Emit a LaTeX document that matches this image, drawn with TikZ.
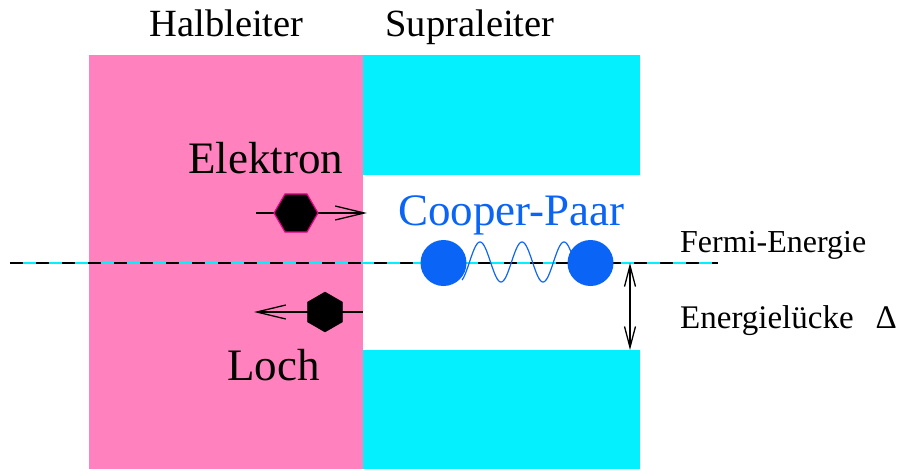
\documentclass[tikz,border=0pt]{standalone}
\usepackage{fontspec}
\setmainfont{Liberation Serif}
\usetikzlibrary{shapes.geometric,arrows.meta}
\definecolor{hlpink}{RGB}{255,130,190}
\definecolor{slcyan}{RGB}{5,240,255}
\definecolor{cpblue}{RGB}{10,100,245}
\begin{document}
\begin{tikzpicture}[x=1pt,y=-1pt,
  hexE/.style={regular polygon, regular polygon sides=6, draw=magenta, fill=black, line width=1.2pt, inner sep=0pt, minimum size=44pt},
  hexH/.style={regular polygon, regular polygon sides=6, shape border rotate=30, draw=black, fill=black, inner sep=0pt, minimum size=40pt},
  cooper/.style={circle, fill=cpblue, inner sep=0pt, minimum size=46pt},
  movearrow/.style={line width=1.3pt, -{Straight Barb[length=29pt,width=14pt,line width=1.3pt]}},
  gaparrow/.style={line width=1.3pt, {Straight Barb[length=21pt,width=11pt,line width=1.3pt]}-{Straight Barb[length=21pt,width=11pt,line width=1.3pt]}},
  lbl/.style={anchor=base west, inner sep=0pt, font=\rmfamily\fontsize{45}{48}\selectfont},
  head/.style={anchor=base, inner sep=0pt, font=\rmfamily\fontsize{38.5}{42}\selectfont},
  small/.style={anchor=base west, inner sep=0pt, font=\rmfamily\fontsize{32}{36}\selectfont}]
\useasboundingbox (0,0) rectangle (898,469);
% regions
\fill[hlpink] (89,55) rectangle (363,469);
\fill[slcyan] (363,55) rectangle (640,175);
\fill[slcyan] (363,350) rectangle (640,469);
% headings
\node[head] (hl) at (226.5,36) {Halbleiter};
\node[head] (sl) at (470,36) {Supraleiter};
% Fermi level
\coordinate (f0) at (10,263);
\coordinate (f1) at (718,263);
\draw[slcyan, line width=2pt] (f0) -- (f1);
\draw[black, line width=2pt, dash pattern=on 13pt off 13pt] (f0) -- (f1);
% electron
\coordinate (e0) at (256,213);
\coordinate (e1) at (367,213);
\draw[movearrow] (e0) -- (e1);
\node[hexE] (el) at (296,213) {};
\node[lbl] (elt) at (188,173) {Elektron};
% hole
\coordinate (h0) at (363,312);
\coordinate (h1) at (254,312);
\draw[movearrow] (h0) -- (h1);
\node[hexH] (ho) at (325,312) {};
\node[lbl] (hot) at (227,380) {Loch};
% Cooper pair
\draw[cpblue, line width=1.2pt] plot[domain=462:572, samples=200, smooth] (\x, {262 - 20*sin(8.5714*(\x-469.5))});
\node[cooper] (cpL) at (443.5,263) {};
\node[cooper] (cpR) at (590.5,263) {};
\node[lbl, text=cpblue] (cpt) at (398,225) {Cooper-Paar};
% gap
\coordinate (g0) at (630,263);
\coordinate (g1) at (630,350);
\draw[gaparrow] (g0) -- (g1);
\node[small] (fe) at (680,252) {Fermi-Energie};
\node[small, font=\rmfamily\fontsize{33}{36}\selectfont] (gap) at (680,328) {Energielücke\hspace{22pt}Δ};
\end{tikzpicture}
\end{document}
